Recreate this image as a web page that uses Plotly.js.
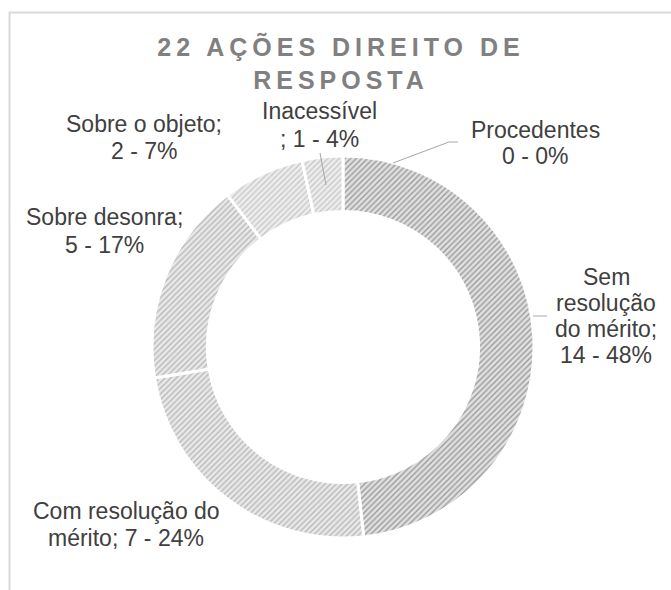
<!DOCTYPE html>
<html>
<head>
<meta charset="utf-8">
<script src="https://cdn.plot.ly/plotly-3.0.1.min.js"></script>
<style>
  html, body { margin: 0; padding: 0; background: #fff; }
  #chart { width: 671px; height: 590px; }
  .gtitle { letter-spacing: 5px; }
</style>
</head>
<body>
<div id="chart"></div>
<script>
// ---- data ----
const categories = ["Procedentes", "Sem resolução do mérito", "Com resolução do mérito", "Sobre desonra", "Sobre o objeto", "Inacessível"];
const values = [0, 14, 7, 5, 2, 1];
const percents = ["0%", "48%", "24%", "17%", "7%", "4%"];
// data-label text, one entry per line as shown on the chart
const labelLines = [
  ["Procedentes", "0 - 0%"],
  ["Sem", "resolução", "do mérito;", "14 - 48%"],
  ["Com resolução do", "mérito; 7 - 24%"],
  ["Sobre desonra;", "5 - 17%"],
  ["Sobre o objeto;", "2 - 7%"],
  ["Inacessível", "; 1 - 4%"]
];
const chartTitle = "22 AÇÕES DIREITO DE<br>RESPOSTA";

// ---- layout helpers (pixel -> paper) ----
const W = 671, H = 590;
const px = (x) => x / W;
const py = (y) => 1 - y / H;

const cx = 343, cy = 347, R = 191;

// label placement: centre x and baseline of each line (pixels)
const labelX = [535, 606, 126, 104, 144, 319];
const labelBaselines = [
  [138, 164],
  [285, 311, 337, 363],
  [519, 546],
  [225, 253],
  [132, 159],
  [119, 147]
];
const FS = 23;

const fg = ["#a0a0a0", "#9a9a9a", "#b8b8b8", "#b8b8b8", "#c8c8c8", "#c8c8c8"];
const bg = ["#e4e4e4", "#e0e0e0", "#e9e9e9", "#e9e9e9", "#ededed", "#ededed"];

const trace = {
  type: "pie",
  labels: categories,
  values: values,
  sort: false,
  direction: "clockwise",
  rotation: 0,
  hole: 0.71,
  textinfo: "none",
  hoverinfo: "label+value+percent",
  automargin: false,
  domain: { x: [px(cx - R), px(cx + R)], y: [py(cy + R), py(cy - R)] },
  marker: {
    colors: bg,
    line: { color: "#ffffff", width: 3 },
    pattern: {
      shape: "/",
      fgcolor: fg,
      bgcolor: bg,
      size: 4,
      solidity: 0.35
    }
  },
  showlegend: false
};

const annotations = [];
labelLines.forEach((lines, i) => {
  lines.forEach((t, j) => {
    annotations.push({
      xref: "paper", yref: "paper",
      x: px(labelX[i]), y: py(labelBaselines[i][j] - 8),
      xanchor: "center", yanchor: "middle",
      text: t, showarrow: false, align: "center",
      font: { family: "Liberation Sans, Arial, sans-serif", size: FS, color: "#404040" }
    });
  });
});

function pathPx(points) {
  return points.map((p, i) => (i ? "L" : "M") + px(p[0]).toFixed(5) + "," + py(p[1]).toFixed(5)).join(" ");
}

const leaderStyle = { color: "#a6a6a6", width: 1 };
const shapes = [
  { type: "rect", xref: "paper", yref: "paper", x0: px(9.5), x1: 1.05, y0: -0.05, y1: py(12.5),
    line: { color: "#d9d9d9", width: 2 }, fillcolor: "rgba(0,0,0,0)", layer: "below" },
  { type: "path", xref: "paper", yref: "paper", path: pathPx([[393, 163], [449, 142], [458, 142]]), line: leaderStyle },
  { type: "path", xref: "paper", yref: "paper", path: pathPx([[320, 153], [326, 185]]), line: leaderStyle },
  { type: "path", xref: "paper", yref: "paper", path: pathPx([[533, 316], [547, 316]]), line: leaderStyle }
];

const layout = {
  width: W, height: H,
  margin: { l: 0, r: 0, t: 0, b: 0 },
  paper_bgcolor: "#ffffff",
  title: {
    text: chartTitle,
    x: px(341), xanchor: "center",
    y: py(56), yanchor: "middle", yref: "container",
    font: { family: "Liberation Sans, Arial, sans-serif", size: 25, weight: "bold", color: "#808080" }
  },
  annotations: annotations,
  shapes: shapes
};

Plotly.newPlot("chart", [trace], layout, { displayModeBar: false, staticPlot: true });
</script>
</body>
</html>
